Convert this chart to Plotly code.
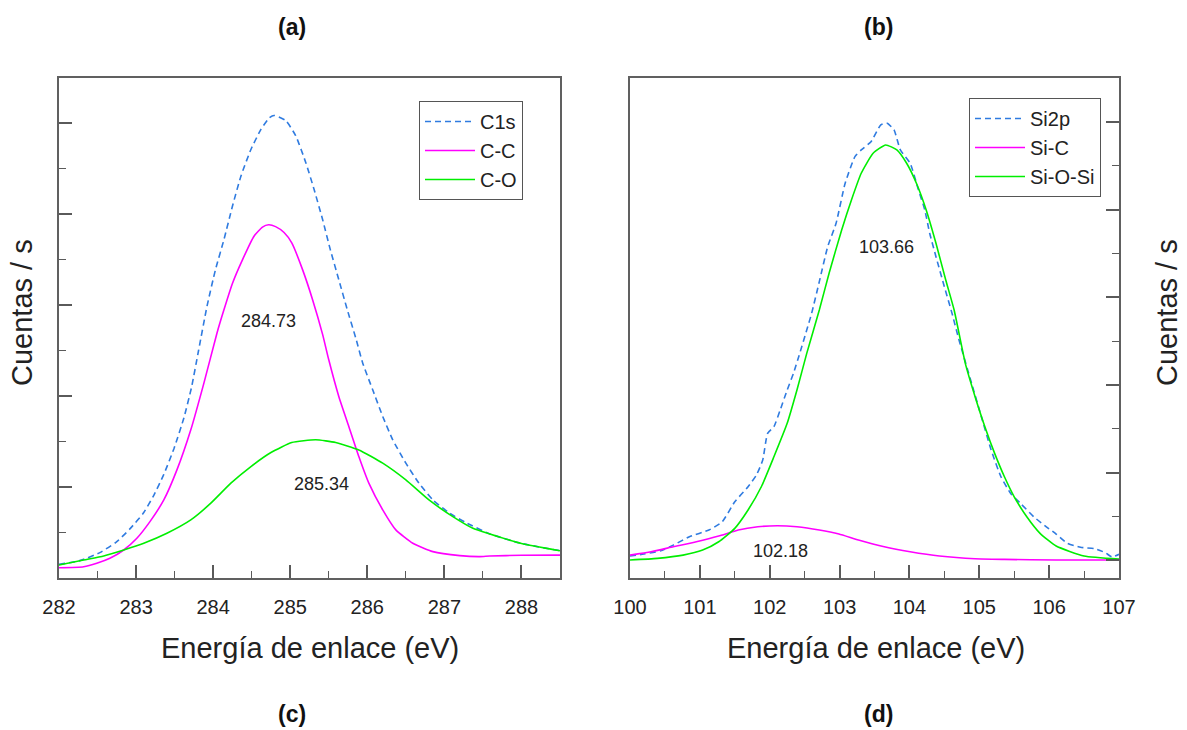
import plotly.graph_objects as go

# ---------------- data ----------------
# Panel (a)/(c): C1s region
c1s_x = [282.0, 282.27, 282.53, 282.75, 282.92, 283.10, 283.23, 283.36, 283.49, 283.62,
         283.72, 283.81, 283.92, 284.03, 284.14, 284.25, 284.36, 284.49, 284.62, 284.73,
         284.79, 284.94, 285.07, 285.20, 285.31, 285.42, 285.52, 285.63, 285.74, 285.85,
         285.94, 286.07, 286.20, 286.33, 286.50, 286.67, 286.85, 287.07, 287.28, 287.59,
         288.0, 288.5]
c1s_y = [150, 191, 279, 400, 540, 720, 910, 1140, 1420, 1760,
         2100, 2500, 2988, 3392, 3722, 4089, 4420, 4714, 4934, 5063,
         5088, 5033, 4867, 4574, 4273, 3943, 3612, 3282, 2952, 2640,
         2365, 2070, 1777, 1520, 1263, 1043, 859, 712, 609, 485,
         380, 300]

cc_x = [282.0, 282.32, 282.49, 282.66, 282.84, 283.01, 283.18, 283.36, 283.53, 283.71,
        283.88, 284.05, 284.14, 284.25, 284.38, 284.53, 284.64, 284.72, 284.81, 284.92,
        285.02, 285.16, 285.29, 285.42, 285.50, 285.63, 285.76, 285.89, 286.02, 286.20,
        286.37, 286.59, 286.85, 287.20, 287.46, 287.59, 288.0, 288.5]
cc_y = [113, 124, 162, 217, 308, 437, 620, 859, 1189, 1630,
        2144, 2695, 2950, 3240, 3500, 3760, 3860, 3885, 3865, 3800,
        3686, 3392, 3062, 2680, 2400, 1997, 1667, 1336, 1043, 749,
        529, 382, 290, 246, 235, 242, 250, 252]

co_x = [282.0, 282.32, 282.58, 282.84, 283.10, 283.40, 283.71, 283.97, 284.23, 284.49,
        284.75, 285.02, 285.33, 285.59, 285.89, 286.20, 286.50, 286.80, 287.11, 287.37,
        287.59, 288.0, 288.5]
co_y = [143, 198, 242, 308, 382, 492, 639, 823, 1043, 1226,
        1380, 1490, 1520, 1490, 1409, 1263, 1079, 859, 675, 547,
        485, 380, 300]

# Panel (b)/(d): Si2p region
si2p_x = [100.0, 100.20, 100.44, 100.62, 100.85, 101.13, 101.32, 101.50, 101.69, 101.81,
          101.90, 101.97, 102.06, 102.15, 102.25, 102.34, 102.43, 102.53, 102.60, 102.71,
          102.83, 102.95, 103.08, 103.22, 103.31, 103.45, 103.59, 103.68, 103.78, 103.87,
          104.01, 104.13, 104.22, 104.29, 104.38, 104.50, 104.61, 104.71, 104.89, 105.03,
          105.17, 105.31, 105.45, 105.59, 105.78, 105.96, 106.10, 106.25, 106.45, 106.65,
          106.80, 106.90, 107.0]
si2p_y = [50, 73, 110, 175, 270, 347, 441, 669, 840, 974,
          1145, 1449, 1525, 1715, 1943, 2133, 2361, 2627, 2817, 3178,
          3577, 3844, 4300, 4604, 4680, 4774, 4965, 4984, 4908, 4680,
          4528, 4223, 3996, 3730, 3463, 3121, 2817, 2513, 2019, 1639,
          1259, 954, 764, 651, 498, 384, 301, 200, 150, 135,
          90, 40, 70]

sic_x = [100.0, 100.30, 100.62, 100.95, 101.27, 101.55, 101.83, 102.11, 102.39, 102.71,
         102.99, 103.27, 103.64, 104.01, 104.43, 104.94, 105.36, 106.10, 107.0]
sic_y = [61, 99, 156, 213, 278, 347, 384, 396, 384, 347,
         301, 233, 156, 99, 50, 19, 12, 5, 5]

siosi_x = [100.0, 100.39, 100.76, 101.04, 101.27, 101.50, 101.69, 101.88, 102.06, 102.25,
           102.39, 102.53, 102.71, 102.85, 103.03, 103.17, 103.31, 103.48, 103.66, 103.82,
           103.96, 104.10, 104.24, 104.38, 104.52, 104.64, 104.80, 104.94, 105.08, 105.22,
           105.36, 105.50, 105.68, 105.87, 106.10, 106.5, 107.0]
siosi_y = [5, 24, 61, 118, 213, 366, 575, 840, 1182, 1563,
           1943, 2361, 2855, 3274, 3768, 4110, 4414, 4642, 4737, 4680,
           4528, 4300, 3996, 3616, 3197, 2855, 2247, 1867, 1525, 1221,
           954, 726, 498, 309, 164, 50, 15]

peak_labels_left = ["284.73", "285.34"]
peak_pos_left = [(284.72, 2830), (285.40, 1035)]
peak_labels_right = ["103.66", "102.18"]
peak_pos_right = [(103.67, 3568), (102.16, 107)]

# ---------------- styling ----------------
FONT = "Liberation Sans, Arial, sans-serif"
BLUE = "#2f7be0"
MAG = "#ff00ff"
GRN = "#00ee00"
TICKC = "#5a5a5a"
LINEC = "#606060"

fig = go.Figure()


def add(x, y, name, color, dash, xa, ya, lg):
    fig.add_trace(go.Scatter(x=x, y=y, name=name, mode="lines",
                             line=dict(color=color, width=1.6, dash=dash,
                                       shape="spline", smoothing=0.5),
                             xaxis=xa, yaxis=ya, legend=lg))


add(c1s_x, c1s_y, "C1s", BLUE, "6px,4px", "x", "y", "legend")
add(cc_x, cc_y, "C-C", MAG, "solid", "x", "y", "legend")
add(co_x, co_y, "C-O", GRN, "solid", "x", "y", "legend")
add(si2p_x, si2p_y, "Si2p", BLUE, "6px,4px", "x2", "y2", "legend2")
add(sic_x, sic_y, "Si-C", MAG, "solid", "x2", "y2", "legend2")
add(siosi_x, siosi_y, "Si-O-Si", GRN, "solid", "x2", "y2", "legend2")

W, H = 1187, 730
ydom = [1 - 578 / H, 1 - 78 / H]
xdom1 = [59 / W, 560 / W]
xdom2 = [630 / W, 1119 / W]


def main_x(dom, rng, anchor):
    return dict(domain=dom, range=rng, anchor=anchor, dtick=1, tick0=rng[0],
                ticks="inside", ticklen=13, tickwidth=1.5, tickcolor=TICKC,
                minor=dict(dtick=0.5, ticks="inside", ticklen=7, tickwidth=1.2, tickcolor=TICKC),
                showline=True, linecolor=LINEC, linewidth=1.5, mirror=True,
                showgrid=False, zeroline=False, automargin=False,
                tickfont=dict(family=FONT, size=20, color="#222"),
                ticklabelstandoff=10)


def top_x(over, rng, anchor):
    return dict(overlaying=over, range=rng, anchor=anchor, side="top", dtick=1, tick0=rng[0],
                ticks="inside", ticklen=13, tickwidth=1.5, tickcolor=TICKC, automargin=False,
                showticklabels=False, showline=False, showgrid=False, zeroline=False)


def main_y(rng, anchor, side):
    return dict(domain=ydom, range=rng, anchor=anchor, side=side, dtick=1000, tick0=0,
                ticks="inside", ticklen=13, tickwidth=1.5, tickcolor=TICKC,
                minor=dict(dtick=500, ticks="inside", ticklen=7, tickwidth=1.2, tickcolor=TICKC),
                showticklabels=False, showline=True, linecolor=LINEC, linewidth=1.5,
                mirror=True, showgrid=False, zeroline=False, automargin=False)


def mirror_y(over, rng, anchor, side):
    return dict(overlaying=over, range=rng, anchor=anchor, side=side, dtick=1000, tick0=0,
                ticks="inside", ticklen=13, tickwidth=1.5, tickcolor=TICKC, automargin=False,
                showticklabels=False, showline=False, showgrid=False, zeroline=False)


fig.update_layout(
    width=W, height=H,
    margin=dict(l=0, r=0, t=0, b=0, autoexpand=False),
    paper_bgcolor="white", plot_bgcolor="white",
    font=dict(family=FONT, color="#222"),
    xaxis=main_x(xdom1, [282, 288.5], "y"),
    xaxis3=top_x("x", [282, 288.5], "y"),
    yaxis=main_y([0, 5500], "x", "left"),
    yaxis3=mirror_y("y", [0, 5500], "x", "right"),
    xaxis2=main_x(xdom2, [100, 107], "y2"),
    xaxis4=top_x("x2", [100, 107], "y2"),
    yaxis2=main_y([-200, 5500], "x2", "right"),
    yaxis4=mirror_y("y2", [-200, 5500], "x2", "left"),
    legend=dict(x=419 / W, y=1 - 101 / H, xanchor="left", yanchor="top",
                bgcolor="white", bordercolor="#555", borderwidth=1, itemwidth=50,
                font=dict(family=FONT, size=20, color="#222"), tracegroupgap=0),
    legend2=dict(x=969 / W, y=1 - 98 / H, xanchor="left", yanchor="top",
                 bgcolor="white", bordercolor="#555", borderwidth=1, itemwidth=50,
                 font=dict(family=FONT, size=20, color="#222"), tracegroupgap=0),
    showlegend=True,
)

ann = []
for t, (x, y) in zip(peak_labels_left, peak_pos_left):
    ann.append(dict(x=x, y=y, xref="x", yref="y", text=t, showarrow=False,
                    font=dict(family=FONT, size=18, color="#222")))
for t, (x, y) in zip(peak_labels_right, peak_pos_right):
    ann.append(dict(x=x, y=y, xref="x2", yref="y2", text=t, showarrow=False,
                    font=dict(family=FONT, size=18, color="#222")))

for t, cx in [("Energía de enlace (eV)", 310), ("Energía de enlace (eV)", 876)]:
    ann.append(dict(x=cx / W, y=1 - 648 / H, xref="paper", yref="paper", text=t,
                    showarrow=False, xanchor="center", yanchor="middle",
                    font=dict(family=FONT, size=29, color="#222")))
for cx in [22, 1167]:
    ann.append(dict(x=cx / W, y=1 - 313 / H, xref="paper", yref="paper", text="Cuentas / s",
                    textangle=-90, showarrow=False, xanchor="center", yanchor="middle",
                    font=dict(family=FONT, size=29, color="#222")))
for t, cx, cy in [("(a)", 292, 27), ("(b)", 878, 27), ("(c)", 292, 714), ("(d)", 878, 714)]:
    ann.append(dict(x=cx / W, y=1 - cy / H, xref="paper", yref="paper", text="<b>" + t + "</b>",
                    showarrow=False, xanchor="center", yanchor="middle",
                    font=dict(family=FONT, size=23, color="#111")))
fig.update_layout(annotations=ann)

fig.write_html("out.html")
